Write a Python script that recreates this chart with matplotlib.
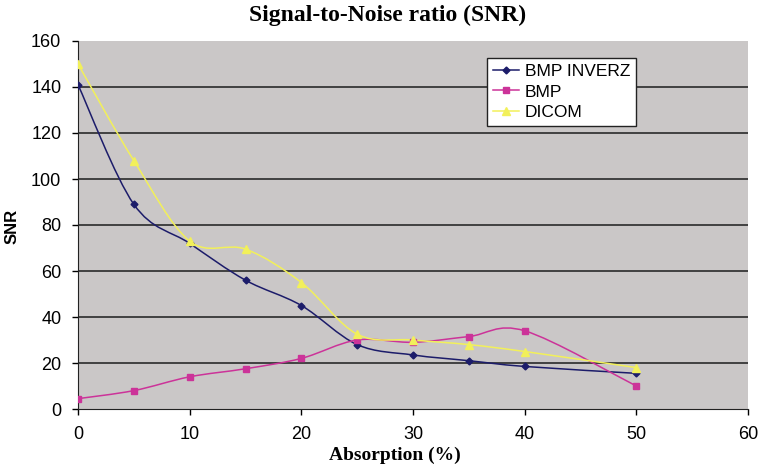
import matplotlib.pyplot as plt
from matplotlib.path import Path
from matplotlib.patches import PathPatch

# data
absorption = [0, 5, 10, 15, 20, 25, 30, 35, 40, 50]
bmp_inverz = [141, 89, 72, 56, 45, 28, 23.5, 21, 18.5, 15.5]
bmp = [4.5, 8, 14, 17.5, 22, 30, 29, 31.5, 34, 10]
dicom = [150, 108, 73, 69.5, 55, 32.5, 30, 28, 25, 18]

x_ticks = [0, 10, 20, 30, 40, 50, 60]
y_ticks = [0, 20, 40, 60, 80, 100, 120, 140, 160]

SANS = ["Liberation Sans", "DejaVu Sans"]
SERIF = ["Liberation Serif", "DejaVu Serif"]


def smooth_path(xs, ys):
    # Excel-like smoothed line: Catmull-Rom segments as cubic Beziers
    pts = list(zip(xs, ys))
    verts = [pts[0]]
    codes = [Path.MOVETO]
    n = len(pts)
    for i in range(n - 1):
        p0 = pts[max(i - 1, 0)]
        p1 = pts[i]
        p2 = pts[i + 1]
        p3 = pts[min(i + 2, n - 1)]
        c1 = (p1[0] + (p2[0] - p0[0]) / 6, p1[1] + (p2[1] - p0[1]) / 6)
        c2 = (p2[0] - (p3[0] - p1[0]) / 6, p2[1] - (p3[1] - p1[1]) / 6)
        verts += [c1, c2, p2]
        codes += [Path.CURVE4] * 3
    return Path(verts, codes)


fig = plt.figure(figsize=(7.68, 4.72), dpi=100)
ax = fig.add_axes([78 / 768, 63 / 472, 670 / 768, 368 / 472])
ax.set_facecolor("#cac7c7")

series = [
    ("BMP INVERZ", bmp_inverz, "#1c1c6a", "D", 3.5),
    ("BMP", bmp, "#cc3399", "s", 4.5),
    ("DICOM", dicom, "#f2f05a", "^", 5.5),
]
for label, ys, color, marker, ms in series:
    ax.add_patch(PathPatch(smooth_path(absorption, ys), facecolor="none",
                           edgecolor=color, linewidth=1.1, zorder=3))
    ax.plot(absorption, ys, linestyle="none", marker=marker, markersize=ms,
            color=color, zorder=4)
    ax.plot([], [], color=color, marker=marker, markersize=ms, linewidth=1.1,
            label=label)

ax.set_xlim(0, 60)
ax.set_ylim(0, 160)
ax.set_xticks(x_ticks)
ax.set_yticks(y_ticks)
ax.tick_params(labelsize=13, direction="out", length=4, width=1, pad=8)
for lab in ax.get_xticklabels() + ax.get_yticklabels():
    lab.set_family(SANS)

for v in y_ticks[1:-1]:
    ax.axhline(v, color="#2a2a2a", linewidth=1.2, zorder=1)

for side in ["top", "right"]:
    ax.spines[side].set_visible(False)
ax.spines["left"].set_color("#222222")
ax.spines["bottom"].set_color("#222222")

fig.text(0.505, 0.968, "Signal-to-Noise ratio (SNR)", ha="center", va="center",
         fontsize=17, fontweight="bold", family=SERIF)
fig.text(0.514, 0.036, "Absorption (%)", ha="center", va="center",
         fontsize=14, fontweight="bold", family=SERIF)
fig.text(0.016, 0.52, "SNR", ha="center", va="center", rotation=90,
         fontsize=12, fontweight="bold", family=SANS)

leg = ax.legend(loc="upper left", bbox_to_anchor=(0.61, 0.954), borderaxespad=0,
                frameon=True, fancybox=False, handlelength=1.5, handletextpad=0.35,
                labelspacing=0.3, borderpad=0.35, prop={"family": SANS, "size": 12.5})
leg.get_frame().set_edgecolor("#222222")
leg.get_frame().set_facecolor("white")
leg.get_frame().set_alpha(1)

fig.savefig("out.png", dpi=100)
